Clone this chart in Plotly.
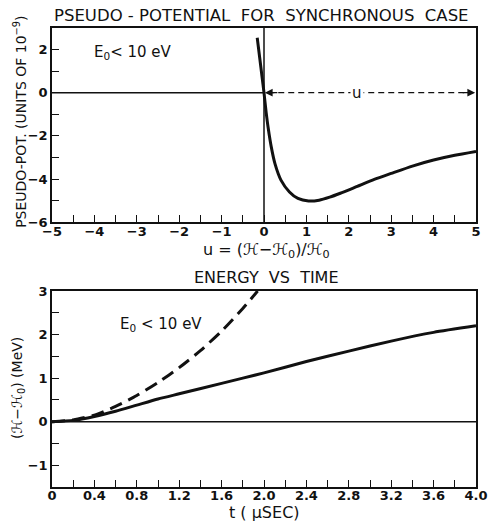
import plotly.graph_objects as go

# ---- data: pseudo-potential (top panel) ----
pot_u = [-0.16, -0.1, -0.05, 0.0, 0.05, 0.1, 0.17, 0.26, 0.4, 0.6, 0.8, 1.05,
         1.3, 1.55, 1.8, 2.2, 2.6, 3.0, 3.5, 4.0, 4.5, 5.0]
pot_v = [2.55, 1.6, 0.8, 0.0, -0.9, -1.65, -2.5, -3.3, -4.05, -4.6, -4.9, -5.02,
         -4.98, -4.84, -4.66, -4.34, -4.02, -3.74, -3.4, -3.12, -2.9, -2.72]

# ---- data: energy vs time (bottom panel) ----
t_solid = [0, 0.2, 0.4, 0.6, 0.8, 1.0, 1.2, 1.6, 2.0, 2.4, 2.8, 3.2, 3.6, 4.0]
e_solid = [0, 0.03, 0.12, 0.24, 0.38, 0.52, 0.64, 0.88, 1.12, 1.38, 1.62, 1.85, 2.05, 2.2]
t_dash = [0, 0.2, 0.4, 0.6, 0.8, 1.0, 1.2, 1.4, 1.6, 1.8, 1.94]
e_dash = [0, 0.04, 0.15, 0.35, 0.6, 0.9, 1.24, 1.63, 2.08, 2.6, 3.0]

# ---- tick labels ----
top_x_ticks = [-5, -4, -3, -2, -1, 0, 1, 2, 3, 4, 5]
top_x_text = ["−5", "−4", "−3", "−2", "−1", "0", "1", "2", "3", "4", "5"]
top_y_ticks = [-6, -4, -2, 0, 2]
top_y_text = ["−6", "−4", "−2", "0", "2"]
bot_x_ticks = [0, 0.4, 0.8, 1.2, 1.6, 2.0, 2.4, 2.8, 3.2, 3.6, 4.0]
bot_x_text = ["0", "0.4", "0.8", "1.2", "1.6", "2.0", "2.4", "2.8", "3.2", "3.6", "4.0"]
bot_y_ticks = [-1, 0, 1, 2, 3]
bot_y_text = ["−1", "0", "1", "2", "3"]

FONT = "DejaVu Sans"
BLACK = "#111111"

fig = go.Figure()
fig.add_trace(go.Scatter(x=pot_u, y=pot_v, mode="lines", xaxis="x", yaxis="y",
                         line=dict(color=BLACK, width=3, shape="spline", smoothing=0.6)))
fig.add_trace(go.Scatter(x=t_solid, y=e_solid, mode="lines", xaxis="x2", yaxis="y2",
                         line=dict(color=BLACK, width=3, shape="spline", smoothing=0.6)))
fig.add_trace(go.Scatter(x=t_dash, y=e_dash, mode="lines", xaxis="x2", yaxis="y2",
                         line=dict(color=BLACK, width=3, dash="13px,7px",
                                   shape="spline", smoothing=0.6)))

minor_common = dict(ticks="inside", ticklen=7, tickcolor=BLACK, tickwidth=1.3)
axis_common = dict(showline=True, linecolor=BLACK, linewidth=1.5, mirror=True,
                   ticks="inside", ticklen=7, tickwidth=1.3, tickcolor=BLACK,
                   showgrid=False, zeroline=False,
                   tickfont=dict(family=FONT, size=13, color=BLACK, weight="bold"))

# page body has an 8px default margin, so the figure is 8px smaller than the window
fig.update_layout(
    width=489, height=516,
    margin=dict(l=44, r=9, t=20, b=37),
    paper_bgcolor="white", plot_bgcolor="white",
    showlegend=False,
    xaxis=dict(axis_common, domain=[0, 1], range=[-5, 5], anchor="y",
               tickmode="array", tickvals=top_x_ticks, ticktext=top_x_text,
               ticklabelstandoff=-4, minor=dict(minor_common, dtick=0.5)),
    yaxis=dict(axis_common, domain=[0.577, 1], range=[-6, 3], anchor="x",
               tickmode="array", tickvals=top_y_ticks, ticktext=top_y_text,
               minor=dict(minor_common, dtick=1)),
    xaxis2=dict(axis_common, domain=[0, 1], range=[0, 4], anchor="y2",
                tickmode="array", tickvals=bot_x_ticks, ticktext=bot_x_text,
                ticklabelstandoff=-4, minor=dict(minor_common, dtick=0.2)),
    yaxis2=dict(axis_common, domain=[0, 0.427], range=[-1.5, 3], anchor="x2",
                tickmode="array", tickvals=bot_y_ticks, ticktext=bot_y_text,
                minor=dict(minor_common, dtick=0.5)),
)

# reference lines
fig.add_shape(type="line", xref="x", yref="y", x0=-5, x1=0, y0=0, y1=0,
              line=dict(color=BLACK, width=1.5))
fig.add_shape(type="line", xref="x", yref="y", x0=0, x1=0, y0=-6, y1=3,
              line=dict(color=BLACK, width=1.5))
fig.add_shape(type="line", xref="x2", yref="y2", x0=0, x1=4, y0=0, y1=0,
              line=dict(color=BLACK, width=1.5))
# dashed "u" arrow
fig.add_shape(type="line", xref="x", yref="y", x0=0.1, x1=4.9, y0=0, y1=0,
              line=dict(color=BLACK, width=1.3, dash="6px,4px"))

ann = []
for (tip, tail) in [(0.02, 0.35), (4.98, 4.65)]:
    ann.append(dict(xref="x", yref="y", axref="x", ayref="y", x=tip, y=0, ax=tail, ay=0,
                    text="", showarrow=True, arrowhead=2, arrowsize=1.2, arrowwidth=1.3,
                    arrowcolor=BLACK))
ann.append(dict(xref="x", yref="y", x=2.2, y=0, text="u", showarrow=False,
                bgcolor="white", font=dict(family=FONT, size=15, color=BLACK)))

ann += [
    dict(xref="paper", yref="paper", x=0.495, y=1.027, text="PSEUDO - POTENTIAL  FOR  SYNCHRONOUS  CASE",
         showarrow=False, xanchor="center", yanchor="middle",
         font=dict(family=FONT, size=16.5, color=BLACK)),
    dict(xref="paper", yref="paper", x=0.505, y=0.4575, text="ENERGY  VS  TIME",
         showarrow=False, xanchor="center", yanchor="middle",
         font=dict(family=FONT, size=16, color=BLACK)),
    dict(xref="x", yref="y", x=-4.05, y=1.88, text="E<sub>0</sub>< 10 eV",
         showarrow=False, xanchor="left", yanchor="middle",
         font=dict(family=FONT, size=15, color=BLACK)),
    dict(xref="x2", yref="y2", x=0.62, y=2.24, text="E<sub>0</sub> < 10 eV",
         showarrow=False, xanchor="left", yanchor="middle",
         font=dict(family=FONT, size=15, color=BLACK)),
    dict(xref="paper", yref="paper", x=0.505, y=0.516, text="u = (ℋ−ℋ<sub>0</sub>)/ℋ<sub>0</sub>",
         showarrow=False, xanchor="center", yanchor="middle",
         font=dict(family=FONT, size=16, color=BLACK)),
    dict(xref="paper", yref="paper", x=0.5, y=-0.056, text="t ( μSEC)",
         showarrow=False, xanchor="center", yanchor="middle",
         font=dict(family=FONT, size=16, color=BLACK)),
    dict(xref="paper", yref="paper", x=-0.076, y=0.795, text="PSEUDO-POT. (UNITS OF 10<sup>−9</sup>)",
         showarrow=False, xanchor="center", yanchor="middle", textangle=-90,
         font=dict(family=FONT, size=14, color=BLACK)),
    dict(xref="paper", yref="paper", x=-0.08, y=0.216, text="(ℋ−ℋ<sub>0</sub>) (MeV)",
         showarrow=False, xanchor="center", yanchor="middle", textangle=-90,
         font=dict(family=FONT, size=14, color=BLACK)),
]
fig.update_layout(annotations=ann)

fig.write_html("out.html")
